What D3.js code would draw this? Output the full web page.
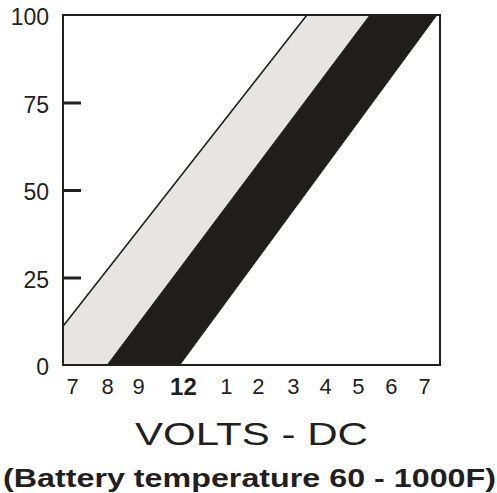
<!DOCTYPE html>
<html>
<head>
<meta charset="utf-8">
<script src="https://cdn.jsdelivr.net/npm/d3@7"></script>
<style>
  html, body { margin: 0; padding: 0; background: #fff; }
  svg { display: block; font-family: "Liberation Sans", Arial, sans-serif; }
</style>
</head>
<body>
<svg id="chart" width="497" height="493"></svg>
<script>
// ---- data (x in % of axis width, y in %) ----
const yTickValues = [0, 25, 50, 75, 100];
const yTickMarks = [25, 50, 75];
const xTickLabels = ["7", "8", "9", "12", "1", "2", "3", "4", "5", "6", "7"];
const xTickPositions = [2.4, 11.7, 19.9, 31.8, 43.2, 51.7, 61.0, 69.5, 78.2, 87.0, 95.8];
const upperEdge = [[0, 11.1], [64.7, 100]];
const midEdge = [[11.7, 0], [81.4, 100]];
const lowerEdge = [[31.0, 0], [99.2, 100]];
const xTitle = "VOLTS - DC";
const subTitle = "(Battery temperature 60 - 1000F)";

const svg = d3.select("#chart");
const L = 63, R = 440, T = 15, B = 365;
const x = d3.scaleLinear().domain([0, 100]).range([L, R]);
const y = d3.scaleLinear().domain([0, 100]).range([B, T]);
const ink = "#231f20";

const lightPoly = [[0, 0], midEdge[0], midEdge[1], upperEdge[1], upperEdge[0]];
const darkPoly = [midEdge[0], lowerEdge[0], lowerEdge[1], midEdge[1]];
const line = d3.line().x(d => x(d[0])).y(d => y(d[1]));

svg.append("path").attr("d", line(lightPoly) + "Z").attr("fill", "#e6e5e4");
svg.append("path").attr("d", line(darkPoly) + "Z").attr("fill", "#1f1e1c")
  .attr("stroke", "#1f1e1c").attr("stroke-width", 0.8);
svg.append("path").attr("d", line(upperEdge)).attr("fill", "none")
  .attr("stroke", ink).attr("stroke-width", 1.6);

// frame
svg.append("rect").attr("x", L).attr("y", T).attr("width", R - L).attr("height", B - T)
  .attr("fill", "none").attr("stroke", ink).attr("stroke-width", 2);

// inner tick marks
const tickAxis = svg.append("g").attr("transform", `translate(${L + 1},0)`)
  .call(d3.axisRight(y).tickValues(yTickMarks).tickSize(17).tickFormat(""));
tickAxis.select(".domain").remove();
tickAxis.selectAll("line").attr("stroke", ink).attr("stroke-width", 3);

// y labels
const yAxis = svg.append("g").attr("transform", `translate(${L},0)`)
  .call(d3.axisLeft(y).tickValues(yTickValues).tickSize(0).tickPadding(14));
yAxis.select(".domain").remove();
yAxis.selectAll("text").attr("font-size", 23).attr("fill", ink)
  .attr("dy", "0.42em").style("font-family", "Liberation Sans, Arial, sans-serif");

// x labels
const xAxis = svg.append("g").attr("transform", `translate(0,${B})`)
  .call(d3.axisBottom(x).tickValues(xTickPositions).tickSize(0).tickPadding(13)
    .tickFormat((d, i) => xTickLabels[i]));
xAxis.select(".domain").remove();
xAxis.selectAll("text").attr("font-size", 22).attr("fill", ink)
  .style("font-family", "Liberation Sans, Arial, sans-serif")
  .attr("font-weight", (d, i) => xTickLabels[i] === "12" ? "bold" : "normal")
  .attr("font-size", (d, i) => xTickLabels[i] === "12" ? 24 : 22);

// titles
svg.append("text").attr("x", 135).attr("y", 445)
  .attr("font-size", 32).attr("fill", ink)
  .attr("textLength", 233).attr("lengthAdjust", "spacingAndGlyphs")
  .text(xTitle);
svg.append("text").attr("x", 3).attr("y", 487)
  .attr("font-size", 25).attr("font-weight", "bold").attr("fill", ink)
  .attr("textLength", 493).attr("lengthAdjust", "spacingAndGlyphs")
  .text(subTitle);
</script>
</body>
</html>
